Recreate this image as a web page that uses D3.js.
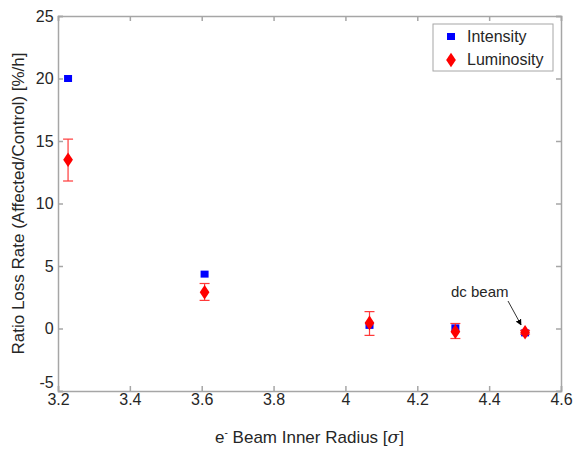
<!DOCTYPE html>
<html>
<head>
<meta charset="utf-8">
<script src="https://cdn.jsdelivr.net/npm/d3@7"></script>
<style>
  body { margin: 0; background: #fff; }
  svg text { font-family: "Liberation Sans", Arial, sans-serif; fill: #262626; }
</style>
</head>
<body>
<svg id="chart"></svg>
<script>
const width = 574;
const height = 450;

// data
const radius = [3.228, 3.608, 4.067, 4.306, 4.5];
const intensity = [20, 4.35, 0.25, 0.05, -0.35];
const intensityErr = [0.15, 0.15, 0.2, 0.3, 0.15];
const luminosity = [13.5, 2.9, 0.45, -0.25, -0.3];
const lumLow = [11.8, 2.25, -0.55, -0.8, -0.45];
const lumHigh = [15.15, 3.6, 1.35, 0.4, -0.15];
const xTicks = [3.2, 3.4, 3.6, 3.8, 4, 4.2, 4.4, 4.6];
const yTicks = [-5, 0, 5, 10, 15, 20, 25];

const margin = { top: 16, right: 13, bottom: 59, left: 58 };

const svg = d3.select("#chart").attr("width", width).attr("height", height);

const x = d3.scaleLinear().domain([3.2, 4.6]).range([margin.left, width - margin.right]);
const y = d3.scaleLinear().domain([-5, 25]).range([height - margin.bottom, margin.top]);

const axisColor = "#a6a6a6";
const plain = d => String(d); // keep ascii hyphen for negatives

// axes (ticks pointing inwards)
const xAxis = svg.append("g")
  .attr("transform", `translate(0,${y(-5)})`)
  .call(d3.axisBottom(x).tickValues(xTicks).tickSize(-5).tickPadding(6).tickFormat(plain));
const xTop = svg.append("g")
  .attr("transform", `translate(0,${y(25)})`)
  .call(d3.axisTop(x).tickValues(xTicks).tickSize(-5).tickFormat(""));
const yAxis = svg.append("g")
  .attr("transform", `translate(${x(3.2)},0)`)
  .call(d3.axisLeft(y).tickValues(yTicks).tickSize(-5).tickPadding(6).tickFormat(plain));
const yRight = svg.append("g")
  .attr("transform", `translate(${x(4.6)},0)`)
  .call(d3.axisRight(y).tickValues(yTicks).tickSize(-5).tickFormat(""));

[xAxis, xTop, yAxis, yRight].forEach(a => {
  a.selectAll("path, line").attr("stroke", axisColor).attr("stroke-width", 1.5);
  a.selectAll("text").style("font-size", "16px").attr("fill", "#262626");
});
xAxis.selectAll("text").attr("dy", "0.5em");
yAxis.selectAll("text").attr("dx", "0.1em");
// -5 label sits above its tick in the original
yAxis.selectAll(".tick text").filter(d => d === -5).attr("dy", "-0.2em");

// axis labels
svg.append("text")
  .attr("x", (x(3.2) + x(4.6)) / 2)
  .attr("y", 443)
  .attr("text-anchor", "middle")
  .style("font-size", "17px")
  .html('e<tspan dy="-7" font-size="10px">-</tspan><tspan dy="7"> Beam Inner Radius [</tspan><tspan font-style="italic" font-family="DejaVu Serif">σ</tspan><tspan>]</tspan>');

svg.append("text")
  .attr("transform", `translate(24,${(y(-5) + y(25)) / 2}) rotate(-90)`)
  .attr("text-anchor", "middle")
  .style("font-size", "17px")
  .text("Ratio Loss Rate (Affected/Control) [%/h]");

const pts = radius.map((r, i) => ({
  r, inten: intensity[i], iErr: intensityErr[i], lum: luminosity[i], lo: lumLow[i], hi: lumHigh[i]
}));

// intensity error bars + markers
const ig = svg.append("g");
ig.selectAll("line.ebar").data(pts).enter().append("line")
  .attr("x1", d => x(d.r)).attr("x2", d => x(d.r))
  .attr("y1", d => y(d.inten - d.iErr)).attr("y2", d => y(d.inten + d.iErr))
  .attr("stroke", "#0000ff").attr("stroke-width", 1);
ig.selectAll("rect").data(pts).enter().append("rect")
  .attr("x", d => x(d.r) - 4).attr("y", d => y(d.inten) - 3.5)
  .attr("width", 8).attr("height", 7)
  .attr("fill", "#0000ff");

// luminosity error bars + markers
const lg = svg.append("g").attr("stroke", "#ff3a3a").attr("stroke-width", 1.2);
pts.forEach(d => {
  const cx = x(d.r);
  lg.append("line").attr("x1", cx).attr("x2", cx).attr("y1", y(d.lo)).attr("y2", y(d.hi));
  lg.append("line").attr("x1", cx - 5).attr("x2", cx + 5).attr("y1", y(d.lo)).attr("y2", y(d.lo));
  lg.append("line").attr("x1", cx - 5).attr("x2", cx + 5).attr("y1", y(d.hi)).attr("y2", y(d.hi));
});
const diamond = d3.symbol().type(d3.symbolDiamond).size(62);
svg.append("g").selectAll("path").data(pts).enter().append("path")
  .attr("d", diamond)
  .attr("transform", d => `translate(${x(d.r)},${y(d.lum)}) scale(1.15,1)`)
  .attr("fill", "#ff0000");

// annotation
svg.append("defs").append("marker")
  .attr("id", "arrow").attr("viewBox", "0 0 10 10")
  .attr("refX", 9).attr("refY", 5)
  .attr("markerWidth", 6).attr("markerHeight", 6)
  .attr("orient", "auto")
  .append("path").attr("d", "M0,0 L10,5 L0,10 z").attr("fill", "#000");

svg.append("text")
  .attr("x", 451).attr("y", 297)
  .style("font-size", "15px")
  .text("dc beam");
svg.append("line")
  .attr("x1", 508).attr("y1", 301)
  .attr("x2", x(4.5) - 4).attr("y2", y(-0.35) - 8)
  .attr("stroke", "#333").attr("stroke-width", 1)
  .attr("marker-end", "url(#arrow)");

// legend
const leg = svg.append("g");
leg.append("rect")
  .attr("x", 433).attr("y", 24).attr("width", 120).attr("height", 47)
  .attr("fill", "#fff").attr("stroke", "#a6a6a6").attr("stroke-width", 1);
leg.append("rect").attr("x", 447).attr("y", 33).attr("width", 8).attr("height", 7).attr("fill", "#0000ff");
leg.append("path").attr("d", diamond).attr("transform", "translate(451,60) scale(1.15,1)").attr("fill", "#ff0000");
leg.append("text").attr("x", 467).attr("y", 42).style("font-size", "16px").text("Intensity");
leg.append("text").attr("x", 467).attr("y", 65).style("font-size", "16px").text("Luminosity");
</script>
</body>
</html>
